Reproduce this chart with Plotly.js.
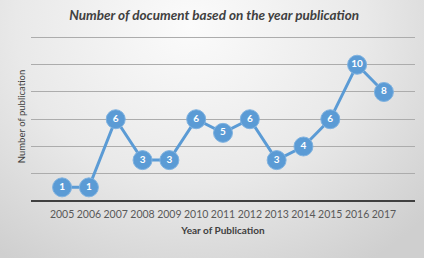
<!DOCTYPE html>
<html><head><meta charset="utf-8">
<script src="https://cdn.plot.ly/plotly-3.0.1.min.js"></script>
<style>
html,body{margin:0;padding:0;}
#c{width:424px;height:258px;background:radial-gradient(ellipse 75% 110% at 45% 10%, #fbfbfb 0%, #e9e9e9 55%, #cfcfcf 100%);}
</style></head><body>
<div id="c"></div>
<script>
const years = ["2005","2006","2007","2008","2009","2010","2011","2012","2013","2014","2015","2016","2017"];
const docs = [1,1,6,3,3,6,5,6,3,4,6,10,8];
const titleText = "Number of document based on the year publication";
const xTitle = "Year of Publication";
const yTitle = "Number of publication";

Plotly.newPlot("c", [{
  x: years, y: docs, type: "scatter", mode: "lines+markers+text",
  text: docs.map(String), textposition: "middle center",
  textfont: {family: "Lato, Carlito, sans-serif", size: 10, color: "#ffffff", weight: "bold"},
  line: {color: "#5b9bd5", width: 3},
  marker: {size: 19, color: "#5b9bd5", line: {color: "#7fb2e0", width: 1}},
  hoverinfo: "skip", cliponaxis: false
}], {
  width: 424, height: 258,
  paper_bgcolor: "rgba(0,0,0,0)", plot_bgcolor: "rgba(0,0,0,0)",
  margin: {l: 31, r: 9, t: 32, b: 57},
  showlegend: false,
  title: {text: "<b><i>" + titleText + "</i></b>", x: 0.505, xanchor: "center", y: 0.94, yanchor: "middle",
    font: {family: "Lato, sans-serif", size: 13.5, color: "#404040"}},
  xaxis: {type: "category", showgrid: false, zeroline: false, showline: false, ticks: "",
    ticklabelstandoff: 5,
    tickfont: {family: "Lato, sans-serif", size: 10.5, color: "#595959"},
    title: {text: "<b>" + xTitle + "</b>", standoff: 8, font: {family: "Lato, sans-serif", size: 10, color: "#404040"}}},
  yaxis: {range: [0, 12.4], tickvals: [2,4,6,8,10,12], showticklabels: false, showgrid: true, gridcolor: "#acacac", gridwidth: 1,
    zeroline: true, zerolinecolor: "#404040", zerolinewidth: 2, fixedrange: true,
    title: {text: yTitle, standoff: 2, font: {family: "Lato, sans-serif", size: 9.5, color: "#404040"}}}
}, {staticPlot: true});
</script></body></html>
